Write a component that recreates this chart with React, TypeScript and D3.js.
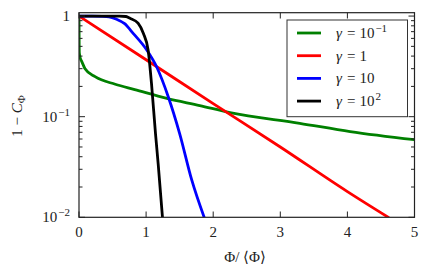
import React, { useRef, useEffect } from "react"
import * as d3 from "d3"

// Φ/<Φ> positions and 1 - C_Φ values
const greenX = [0, 0.002, 0.005, 0.02, 0.04, 0.09, 0.24, 0.54, 0.83, 1.31, 1.8, 2.25, 3.29, 4.04, 5]
const greenY = [1.0, 0.6, 0.43, 0.38, 0.355, 0.3, 0.25, 0.21, 0.186, 0.152, 0.129, 0.11, 0.086, 0.071, 0.059]
const redX = [0, 1, 2, 3, 4, 4.62]
const redY = [1.0, 0.368, 0.135, 0.05, 0.018, 0.0099]
const blueX = [0, 0.2, 0.35, 0.45, 0.56, 0.68, 0.81, 1.01, 1.16, 1.33, 1.5, 1.68, 1.87]
const blueY = [1.0, 1.0, 0.995, 0.98, 0.93, 0.84, 0.67, 0.46, 0.31, 0.158, 0.068, 0.0235, 0.0098]
const blackX = [0, 0.4, 0.6, 0.7, 0.76, 0.88, 0.96, 1.03, 1.08, 1.14, 1.18, 1.245]
const blackY = [1.0, 1.0, 1.0, 0.99, 0.95, 0.85, 0.67, 0.46, 0.215, 0.068, 0.034, 0.0098]

const seriesNames = ["10", "1", "10", "10"]
const seriesSups = ["−1", "", "", "2"]
const seriesColors = ["#008000", "#ff0000", "#0000ff", "#000000"]

const xTicks = [0, 1, 2, 3, 4, 5]
const yMajor = [1, 0.1, 0.01]
const yMajorBase = ["1", "10", "10"]
const yMajorSup = ["", "−1", "−2"]

export default function App() {
  const ref = useRef<SVGSVGElement>(null)

  useEffect(() => {
    const svg = d3.select(ref.current)
    svg.selectAll("*").remove()

    const x = d3.scaleLinear().domain([0, 5]).range([79, 414.5])
    const y = d3.scaleLog().domain([0.01, 1.08]).range([217.3, 12.7])
    const font = "Liberation Serif, DejaVu Serif, serif"
    const fs = 15
    const sfs = 11

    svg.append("defs").append("clipPath").attr("id", "plotclip")
      .append("rect")
      .attr("x", 79).attr("y", 12.7)
      .attr("width", 335.5).attr("height", 204.6)

    const all = [
      greenX.map((v, i) => [v, greenY[i]]),
      redX.map((v, i) => [v, redY[i]]),
      blueX.map((v, i) => [v, blueY[i]]),
      blackX.map((v, i) => [v, blackY[i]]),
    ]
    const line = d3.line<number[]>()
      .x(d => x(d[0]))
      .y(d => y(d[1]))
      .curve(d3.curveMonotoneX)

    const curves = svg.append("g").attr("clip-path", "url(#plotclip)")
    all.forEach((pts, i) => {
      curves.append("path")
        .attr("d", line(pts))
        .attr("fill", "none")
        .attr("stroke", seriesColors[i])
        .attr("stroke-width", 2.8)
        .attr("stroke-linejoin", "round")
    })

    // frame
    svg.append("rect")
      .attr("x", 79).attr("y", 12.7)
      .attr("width", 335.5).attr("height", 204.6)
      .attr("fill", "none")
      .attr("stroke", "#222")
      .attr("stroke-width", 1.2)

    const ticks = svg.append("g").attr("stroke", "#222").attr("stroke-width", 1)
    xTicks.forEach(t => {
      ticks.append("line").attr("x1", x(t)).attr("x2", x(t)).attr("y1", 217.3).attr("y2", 211.5)
      ticks.append("line").attr("x1", x(t)).attr("x2", x(t)).attr("y1", 12.7).attr("y2", 18.5)
    })
    yMajor.forEach(t => {
      ticks.append("line").attr("x1", 79).attr("x2", 85).attr("y1", y(t)).attr("y2", y(t))
      ticks.append("line").attr("x1", 414.5).attr("x2", 408.5).attr("y1", y(t)).attr("y2", y(t))
    })
    const minor: number[] = []
    ;[0.01, 0.1].forEach(b => d3.range(2, 10).forEach(k => minor.push(b * k)))
    minor.forEach(t => {
      ticks.append("line").attr("x1", 79).attr("x2", 82.5).attr("y1", y(t)).attr("y2", y(t))
      ticks.append("line").attr("x1", 414.5).attr("x2", 411).attr("y1", y(t)).attr("y2", y(t))
    })

    const labels = svg.append("g")
      .style("font-family", font).style("font-size", fs + "px").attr("fill", "#222")
    xTicks.forEach(t => {
      labels.append("text").attr("x", x(t)).attr("y", 237)
        .attr("text-anchor", "middle").text(String(t))
    })
    yMajor.forEach((t, i) => {
      const tx = labels.append("text").attr("x", 70).attr("y", y(t) + 5)
        .attr("text-anchor", "end")
      tx.append("tspan").text(yMajorBase[i])
      if (yMajorSup[i]) {
        tx.append("tspan").attr("dx", 1).attr("dy", -6).style("font-size", sfs + "px").text(yMajorSup[i])
      }
    })

    // axis titles
    labels.append("text").attr("x", 245).attr("y", 262).attr("text-anchor", "middle")
      .text("Φ/ ⟨Φ⟩")
    const yl = labels.append("text")
      .attr("transform", "translate(22,116) rotate(-90)")
      .attr("text-anchor", "middle")
    yl.append("tspan").text("1 − ")
    yl.append("tspan").style("font-style", "italic").text("C")
    yl.append("tspan").attr("dy", 3).style("font-size", sfs + "px").text("Φ")

    // legend
    const lg = svg.append("g")
    lg.append("rect")
      .attr("x", 287).attr("y", 20)
      .attr("width", 120.5).attr("height", 96.7)
      .attr("fill", "#fff")
      .attr("stroke", "#333")
      .attr("stroke-width", 1)
    seriesColors.forEach((c, i) => {
      const ly = 33 + i * 22.7
      lg.append("line")
        .attr("x1", 297).attr("x2", 321)
        .attr("y1", ly).attr("y2", ly)
        .attr("stroke", c).attr("stroke-width", 2.8)
      const tx = lg.append("text")
        .attr("x", 336).attr("y", ly + 5)
        .style("font-family", font).style("font-size", fs + "px").attr("fill", "#222")
      tx.append("tspan").style("font-style", "italic").text("γ")
      tx.append("tspan").attr("dx", 5).text("=")
      tx.append("tspan").attr("dx", 4).text(seriesNames[i])
      if (seriesSups[i]) {
        tx.append("tspan").attr("dx", 1).attr("dy", -6).style("font-size", sfs + "px").text(seriesSups[i])
      }
    })
  }, [])

  return (
    <svg ref={ref} width={436} height={269}
      style={{ position: "absolute", left: 0, top: 0, background: "#fff" }} />
  )
}
